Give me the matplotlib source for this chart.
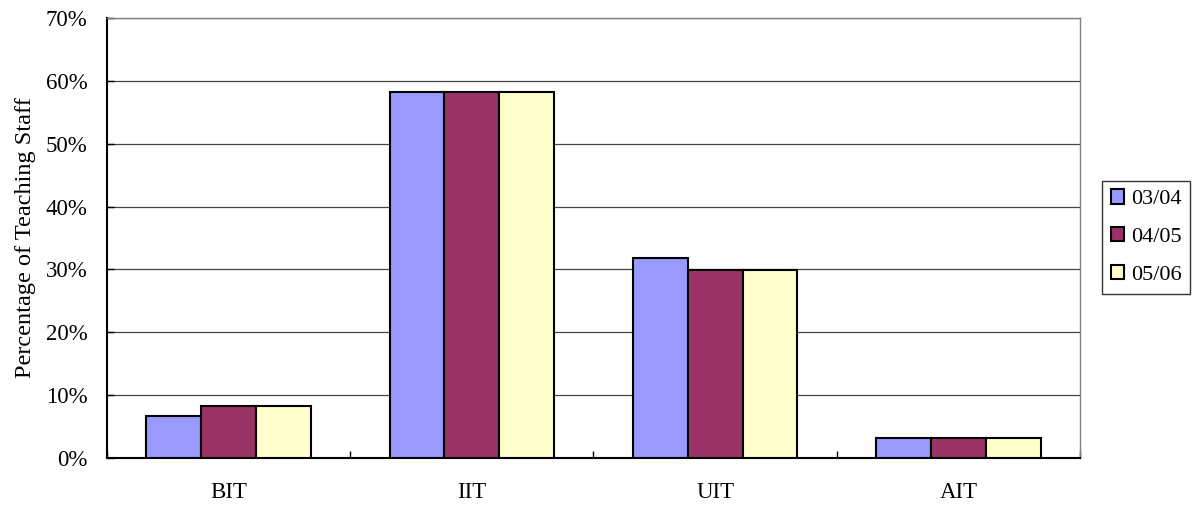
import numpy as np
import matplotlib.pyplot as plt
from matplotlib.ticker import FuncFormatter, FixedLocator

plt.rcParams['font.family'] = ['Liberation Serif', 'DejaVu Serif']

categories = ['BIT', 'IIT', 'UIT', 'AIT']
years = ['03/04', '04/05', '05/06']
values = {
    '03/04': [6.7, 58.2, 31.8, 3.2],
    '04/05': [8.3, 58.2, 29.9, 3.2],
    '05/06': [8.3, 58.2, 29.9, 3.2],
}
colors = ['#9999FF', '#993366', '#FFFFCC']

fig = plt.figure(figsize=(11.95, 5.05), dpi=100)
ax = fig.add_axes([0.0895, 0.0931, 0.8143, 0.8713])

x = np.arange(len(categories))
w = 0.225
for i, yr in enumerate(years):
    ax.bar(x + (i - 1) * w, values[yr], w, color=colors[i], edgecolor='black',
           linewidth=1.5, label=yr, zorder=3)

ax.set_xlim(-0.5, len(categories) - 0.5)
ax.set_ylim(0, 70)
ax.set_yticks(np.arange(0, 71, 10))
ax.yaxis.set_major_formatter(FuncFormatter(lambda v, p: f'{v:.0f}%'))
ax.yaxis.grid(True, color='#444444', linewidth=0.9, zorder=0)

ax.set_xticks(x)
ax.set_xticklabels(categories)
ax.xaxis.set_minor_locator(FixedLocator(np.arange(-0.5, len(categories), 1)))
ax.tick_params(axis='x', which='major', length=0, pad=17, labelsize=16.5)
ax.tick_params(axis='x', which='minor', direction='in', length=5, width=1)
ax.tick_params(axis='y', direction='in', length=5, width=1, labelsize=16.5, pad=14)

ax.set_ylabel('Percentage of Teaching Staff', fontsize=17.5, labelpad=7)

for s in ['left', 'bottom']:
    ax.spines[s].set_linewidth(1.5)
    ax.spines[s].set_color('black')
for s in ['top', 'right']:
    ax.spines[s].set_linewidth(1)
    ax.spines[s].set_color('#808080')

leg = ax.legend(loc='center left', bbox_to_anchor=(1.0226, 0.502), fontsize=16,
                frameon=True, fancybox=False, edgecolor='black', handlelength=0.6,
                handleheight=0.6, handletextpad=0.3, labelspacing=0.8,
                borderpad=0.4, borderaxespad=0)
leg.get_frame().set_linewidth(1)
for h in leg.legend_handles:
    h.set_linewidth(1.5)

fig.savefig('out.png', dpi=100)
